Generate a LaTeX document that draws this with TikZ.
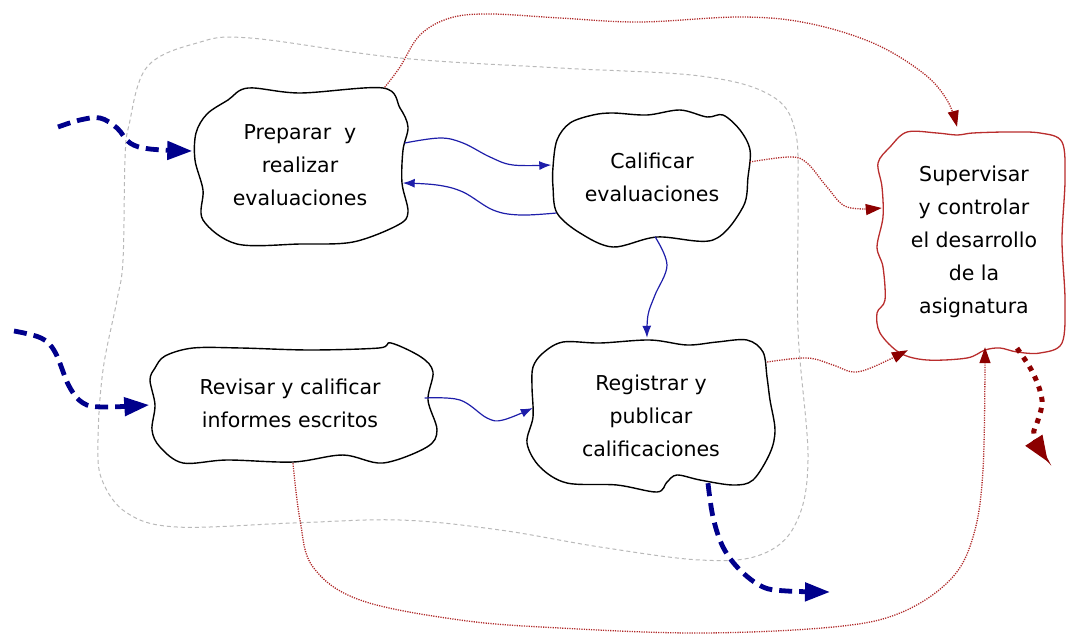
\documentclass[tikz,border=0pt]{standalone}
\usepackage{fontspec}
\setmainfont{DejaVu Sans}
\usetikzlibrary{arrows.meta,calc}
\definecolor{navy}{RGB}{0,0,140}
\definecolor{linkblue}{RGB}{30,30,170}
\definecolor{darkred}{RGB}{140,0,0}
\definecolor{dotred}{RGB}{175,40,40}
\definecolor{boxred}{RGB}{185,45,45}
\definecolor{loopgray}{RGB}{185,185,185}

\begin{document}
\begin{tikzpicture}[x=1pt,y=-1pt,
  proc/.style={inner sep=0pt, align=center, font=\fontsize{20.5}{33}\selectfont},
  blob/.style={draw=black, line width=1.4pt, fill=white},
  redblob/.style={draw=boxred, line width=1.3pt, fill=white},
  flow/.style={draw=linkblue, line width=1.2pt, -{Latex[length=12pt,width=9pt]}},
  bigflow/.style={draw=navy, line width=4.8pt, dash pattern=on 13pt off 7pt,
    -{Triangle[length=25pt,width=18pt]}},
  report/.style={draw=dotred, line width=1.3pt, dash pattern=on 1.2pt off 1.2pt,
    -{Triangle[length=16pt,width=11pt,color=darkred]}},
  bigreport/.style={draw=darkred, line width=5pt, dash pattern=on 5pt off 6pt,
    -{Triangle[length=26pt,width=19pt]}},
  boundary/.style={draw=loopgray, line width=1pt, dash pattern=on 4pt off 3pt}
]
\useasboundingbox (0,0) rectangle (1068,635);

% system boundary
\draw[boundary] plot[smooth cycle, tension=0.6] coordinates {
  (250,38) (400,58) (560,68) (700,76) (770,95) (795,130) (798,200) (798,330)
  (808,460) (795,525) (760,555) (700,560) (600,547) (500,530) (400,520)
  (293,523) (177,527) (127,513) (102,480) (98,440) (103,370) (117,300)
  (123,260) (125,160) (129,125) (147,67) (197,43)};

% process shapes
\draw[blob] plot[smooth cycle, tension=0.55] coordinates {
  (248,88) (300,93) (383,88) (400,108) (408,127) (403,150) (402,183) (408,212)
  (398,225) (353,242) (300,244) (237,244) (203,220) (203,190) (195,160)
  (196,133) (207,114) (228,100)};
\draw[blob] plot[smooth cycle, tension=0.55] coordinates {
  (553,167) (557,140) (570,123) (593,115) (613,113) (647,115) (680,110)
  (707,117) (723,115) (740,130) (750,150) (748,177) (743,207) (713,240)
  (657,237) (613,247) (580,233) (557,213) (553,187)};
\draw[redblob] plot[smooth cycle, tension=0.55] coordinates {
  (878,163) (890,147) (907,132) (937,133) (957,135) (973,133) (1007,132)
  (1040,133) (1062,142) (1065,180) (1062,240) (1065,300) (1062,343)
  (1040,353) (1017,352) (1000,348) (985,350) (967,358) (927,360) (900,353)
  (880,333) (877,313) (885,300) (883,267) (877,247) (883,217) (882,187)};
\draw[blob] plot[smooth cycle, tension=0.55] coordinates {
  (155,368) (165,356) (193,348) (241,348) (310,350) (379,348) (391,343)
  (421,357) (433,372) (428,400) (437,430) (427,447) (383,463) (343,455)
  (293,462) (227,460) (183,463) (160,447) (152,430) (155,405) (150,380)};
\draw[blob] plot[smooth cycle, tension=0.55] coordinates {
  (533,367) (543,353) (563,342) (600,343) (650,340) (687,345) (717,342)
  (747,340) (763,352) (767,377) (770,400) (775,430) (770,453) (753,480)
  (733,485) (700,480) (677,475) (667,482) (657,492) (617,485) (567,483)
  (540,467) (527,443) (533,417) (532,387)};

% process labels
\node[proc, minimum width=215pt, minimum height=155pt] (A) at (300,165)
  {Preparar\ \ y\\realizar\\evaluaciones};
\node[proc, minimum width=197pt, minimum height=137pt] (B) at (652,177)
  {Calificar\\evaluaciones};
\node[proc, minimum width=188pt, minimum height=228pt] (C) at (974,242)
  {Supervisar\\y controlar\\el desarrollo\\de la\\asignatura};
\node[proc, minimum width=287pt, minimum height=120pt] (D) at (290,403)
  {Revisar y calificar\\informes escritos};
\node[proc, minimum width=248pt, minimum height=152pt] (E) at (651,416)
  {Registrar y\\publicar\\calificaciones};

% attachment points on the shapes
\coordinate (a1) at ($(A.east)+(-3,-22)$);
\coordinate (a2) at ($(A.east)+(-5,18)$);
\coordinate (a3) at ($(A.north east)+(-23,0)$);
\coordinate (a4) at ($(A.west)+(0,-14)$);
\coordinate (b1) at ($(B.west)+(-2,-12)$);
\coordinate (b2) at ($(B.west)+(3,36)$);
\coordinate (b3) at ($(B.south)+(3,-9)$);
\coordinate (b4) at ($(B.east)+(-1,-15)$);
\coordinate (c1) at ($(C.north)+(-17,-1)$);
\coordinate (c2) at ($(C.west)+(2,-34)$);
\coordinate (c3) at ($(C.south west)+(28,-6)$);
\coordinate (c4) at ($(C.south)+(11,-9)$);
\coordinate (c5) at ($(C.south)+(43,-8)$);
\coordinate (d1) at ($(D.east)+(-9,-5)$);
\coordinate (d2) at ($(D.south)+(3,0)$);
\coordinate (d3) at ($(D.west)+(3,2)$);
\coordinate (e1) at ($(E.north)+(-4,-2)$);
\coordinate (e2) at ($(E.west)+(6,-8)$);
\coordinate (e3) at ($(E.east)+(-8,-54)$);
\coordinate (e4) at ($(E.south)+(57,-9)$);
% free ends
\coordinate (inA) at (58,127);
\coordinate (inD) at (14,331);
\coordinate (outE) at (830,592);
\coordinate (outC) at (1048,462);

% reporting links to supervision
\draw[report] plot[smooth, tension=0.6] coordinates {(a3) (400,67) (420,35)
  (450,18) (490,14) (560,18) (640,22) (740,17) (807,23) (873,43) (923,73)
  (947,100) (c1)};
\draw[report] plot[smooth, tension=0.6] coordinates {(b4) (790,157) (807,163)
  (827,187) (847,207) (c2)};
\draw[report] plot[smooth, tension=0.6] coordinates {(e3) (807,358) (833,365)
  (853,372) (873,367) (c3)};
\draw[report] plot[smooth, tension=0.6] coordinates {(d2) (300,520) (313,567)
  (360,600) (460,620) (560,628) (700,633) (833,627) (900,613) (950,580)
  (973,537) (983,470) (c4)};
\draw[bigreport] plot[smooth, tension=0.6] coordinates {(c5) (1033,373)
  (1042,400) (1038,420) (1034,436) (outC)};

% internal flows
\draw[flow] plot[smooth, tension=0.6] coordinates {(a1) (440,138) (463,143)
  (490,157) (513,165) (b1)};
\draw[flow] plot[smooth, tension=0.6] coordinates {(b2) (520,215) (493,210)
  (463,192) (437,185) (a2)};
\draw[flow] plot[smooth, tension=0.6] coordinates {(b3) (667,265) (655,295)
  (648,315) (e1)};
\draw[flow] plot[smooth, tension=0.6] coordinates {(d1) (460,400) (487,418)
  (503,420) (e2)};

% inputs and outputs
\draw[bigflow] plot[smooth, tension=0.6] coordinates {(inA) (80,120) (100,118)
  (117,128) (130,143) (150,149) (a4)};
\draw[bigflow] plot[smooth, tension=0.6] coordinates {(inD) (41,338) (55,352)
  (69,386) (83,403) (103,407) (d3)};
\draw[bigflow] plot[smooth, tension=0.6] coordinates {(e4) (713,517) (723,547)
  (740,570) (763,587) (787,591) (outE)};
\end{tikzpicture}
\end{document}
